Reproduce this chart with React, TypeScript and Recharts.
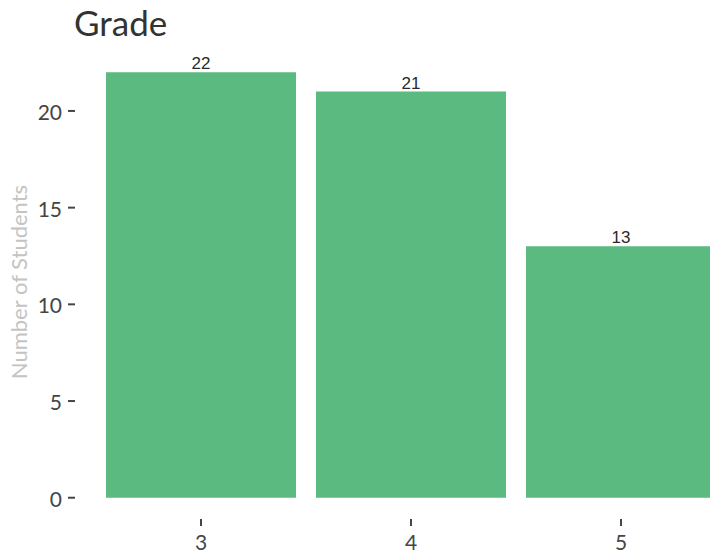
import React from "react";
import { BarChart, Bar, XAxis, YAxis, LabelList } from "recharts";

const grades = ["3", "4", "5"];
const counts = [22, 21, 13];
const yTicks = [0, 5, 10, 15, 20];

const data = grades.map((g, i) => ({ grade: g, count: counts[i] }));

const TICK_COLOR = "#454545";
const FONT = "Lato, 'Open Sans', sans-serif";

const YTick = (props: any) => {
  const { x, y, payload } = props;
  return (
    <g>
      <text x={x} y={y} dy={9} textAnchor="end" fill={TICK_COLOR} fontSize={21} fontFamily={FONT}>
        {payload.value}
      </text>
      <line x1={x + 6} x2={x + 13} y1={y} y2={y} stroke={TICK_COLOR} strokeWidth={2} />
    </g>
  );
};

export default function App() {
  return (
    <div style={{ position: "absolute", left: 0, top: 0, width: 710, height: 554, overflow: "hidden", background: "#fff" }}>
      <BarChart
        width={730}
        height={554}
        data={data}
        margin={{ top: 51, right: 4, bottom: 0, left: 0 }}
        barCategoryGap={10}
      >
        <XAxis
          dataKey="grade"
          height={35}
          axisLine={false}
          tickSize={7}
          tickMargin={9}
          tickLine={{ stroke: TICK_COLOR, strokeWidth: 2 }}
          tick={{ fill: TICK_COLOR, fontSize: 21, fontFamily: FONT }}
        />
        <YAxis
          width={96}
          domain={[-1.1, 23.1]}
          ticks={yTicks}
          axisLine={false}
          tickLine={false}
          tickSize={0}
          tickMargin={34}
          tick={<YTick />}
        />
        <Bar dataKey="count" fill="#5bba80" isAnimationActive={false}>
          <LabelList
            dataKey="count"
            position="top"
            offset={3}
            fill="#2a2a2a"
            fontSize={17}
            fontFamily="'Liberation Sans', Arial, sans-serif"
          />
        </Bar>
      </BarChart>
      <svg width={710} height={554} style={{ position: "absolute", left: 0, top: 0, pointerEvents: "none" }}>
        <text x={74} y={36} fontSize={35} fontFamily={FONT} fill="#333">
          Grade
        </text>
        <text
          transform="translate(27,282) rotate(-90)"
          textAnchor="middle"
          fontSize={22}
          fontFamily={FONT}
          fill="#c4c4c4"
        >
          Number of Students
        </text>
      </svg>
    </div>
  );
}
